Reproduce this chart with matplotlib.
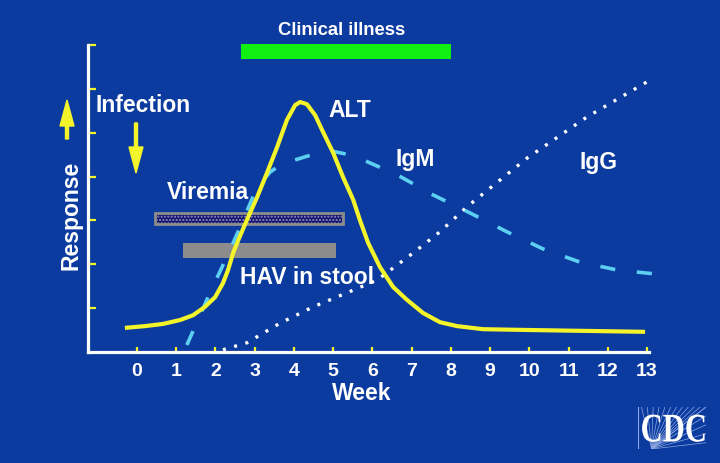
import numpy as np
import matplotlib
matplotlib.use("Agg")
import matplotlib.pyplot as plt
from matplotlib.patches import Rectangle, FancyArrow, PathPatch
from matplotlib.transforms import IdentityTransform
from matplotlib.textpath import TextPath
from matplotlib.font_manager import FontProperties
from matplotlib.path import Path

# --- data (weeks after exposure vs. relative response) ---
weeks = list(range(0, 14))

alt_week = [-0.31, 0.20, 0.66, 1.10, 1.43, 1.73, 1.99, 2.19, 2.32, 2.45, 2.58, 2.80,
            3.06, 3.31, 3.57, 3.82, 4.03, 4.16, 4.33, 4.54, 4.74, 5.00, 5.25, 5.51,
            5.68, 5.89, 6.19, 6.53, 6.88, 7.29, 7.72, 8.16, 8.82, 10.09, 12.95]
alt_resp = [0.55, 0.59, 0.64, 0.73, 0.84, 1.03, 1.25, 1.57, 1.87, 2.26, 2.55, 3.01,
            3.53, 4.08, 4.67, 5.29, 5.63, 5.70, 5.65, 5.40, 5.02, 4.54, 3.99, 3.47,
            3.01, 2.49, 1.94, 1.48, 1.19, 0.89, 0.68, 0.59, 0.52, 0.50, 0.46]

igm_week = [1.27, 1.86, 2.29, 2.63, 3.06, 3.39, 3.72, 4.03, 4.61, 4.97, 5.56, 5.89,
            6.63, 7.55, 8.49, 9.43, 10.35, 11.29, 12.24, 13.2]
igm_resp = [0.16, 1.35, 2.17, 2.85, 3.76, 4.10, 4.31, 4.38, 4.54, 4.58, 4.47, 4.33,
            4.04, 3.58, 3.17, 2.74, 2.35, 2.05, 1.87, 1.78]

igg_week = [2.19, 2.80, 3.65, 4.49, 5.35, 6.12, 7.04, 7.72, 8.41, 9.94, 11.47, 13.0]
igg_resp = [0.05, 0.21, 0.66, 1.03, 1.35, 1.64, 2.26, 2.74, 3.31, 4.42, 5.36, 6.16]

# periods: clinical illness, viremia, virus in stool
period_names = ["Clinical illness", "Viremia", "HAV in stool"]
period_start = [2.65, 0.46, 1.17]
period_end = [8.0, 5.25, 5.07]
period_low = [6.68, 2.92, 2.14]
period_high = [7.02, 3.17, 2.49]

BG = "#0b3b9e"
YELLOW = "#f4f42a"
CYAN = "#5ccff2"
WHITE = "white"

plt.rcParams["font.family"] = ["Liberation Sans", "DejaVu Sans"]
plt.rcParams["font.weight"] = "bold"

W, H = 720, 463
fig = plt.figure(figsize=(W / 100, H / 100), dpi=100, facecolor=BG)
ax = fig.add_axes([88 / W, 1 - 352 / H, (649 - 88) / W, (352 - 45) / H])
ax.set_facecolor(BG)
ax.set_xlim(-1.25, 13.05)
ax.set_ylim(0, 7)

for s in ["top", "right"]:
    ax.spines[s].set_visible(False)
for s in ["left", "bottom"]:
    ax.spines[s].set_color(WHITE)
    ax.spines[s].set_linewidth(2.3)
    ax.spines[s].set_capstyle("projecting")

ax.set_xticks(weeks)
ax.set_xticklabels([str(w) for w in weeks],
                   family=["Liberation Sans Narrow", "Liberation Sans"])
ax.set_yticks(range(1, 8))
ax.set_yticklabels([])
ax.tick_params(axis="x", direction="in", length=3.5, width=1.6, color=YELLOW,
               labelcolor=WHITE, labelsize=14, pad=8)
ax.tick_params(axis="y", direction="in", length=6, width=1.6, color=YELLOW)

# period bars
ax.add_patch(Rectangle((period_start[0], period_low[0]), period_end[0] - period_start[0],
                       period_high[0] - period_low[0], facecolor="#11ee11",
                       edgecolor="none", clip_on=False, zorder=2))
ax.add_patch(Rectangle((period_start[1], period_low[1]), period_end[1] - period_start[1],
                       period_high[1] - period_low[1], facecolor="#16166e",
                       edgecolor="#8f8fc0", hatch=".....", linewidth=0, zorder=2))
ax.add_patch(Rectangle((period_start[1], period_low[1]), period_end[1] - period_start[1],
                       period_high[1] - period_low[1], facecolor="none",
                       edgecolor="#8c8c8c", linewidth=2, zorder=2))
ax.add_patch(Rectangle((period_start[2], period_low[2]), period_end[2] - period_start[2],
                       period_high[2] - period_low[2], facecolor="#8c8c8c",
                       edgecolor="none", zorder=2))

# curves
ax.plot(igg_week, igg_resp, color=WHITE, lw=2.4, linestyle=(0, (0.9, 2.6)),
        dash_capstyle="butt", clip_on=False, zorder=3)
ax.plot(igm_week, igm_resp, color=CYAN, lw=2.6, linestyle=(0, (4.2, 6.0)),
        dash_capstyle="butt", clip_on=False, zorder=4)
ax.plot(alt_week, alt_resp, color=YELLOW, lw=3.0, solid_joinstyle="round",
        solid_capstyle="butt", clip_on=False, zorder=5)

# labels in data space
lab = dict(color=WHITE, fontsize=16.5, fontweight="bold", va="baseline", zorder=6)
ax.text(-1.07, (352 - 112) / 43.86, "Infection", ha="left", **lab)
ax.text(0.76, (352 - 199) / 43.86, period_names[1], ha="left", **lab)
ax.text(2.63, (352 - 284) / 43.86, period_names[2], ha="left", **lab)
ax.text(4.87, (352 - 117) / 43.86, "ALT", ha="left", **lab)
ax.text(6.58, (352 - 166) / 43.86, "IgM", ha="left", **lab)
ax.text(11.29, (352 - 169) / 43.86, "IgG", ha="left", **lab)
ax.text((period_start[0] + period_end[0]) / 2 - 0.12, 7.23, period_names[0],
        ha="center", color=WHITE, fontsize=13.3, fontweight="bold", va="baseline",
        clip_on=False)

# axis titles
fig.text(362 / W, 1 - 400 / H, "Week", ha="center", va="baseline", color=WHITE,
         fontsize=16.5, fontweight="bold")
fig.text(78 / W, 1 - 215 / H, "Response", ha="center", va="baseline", rotation=90,
         rotation_mode="anchor", color=WHITE, fontsize=16.5, fontweight="bold")

# yellow arrows
fig.add_artist(FancyArrow(136, H - 123, 0, -50, width=3, head_width=14, head_length=26,
                          length_includes_head=True, color=YELLOW,
                          transform=IdentityTransform()))
fig.add_artist(FancyArrow(67, H - 139, 0, 39, width=3, head_width=14, head_length=26,
                          length_includes_head=True, color=YELLOW,
                          transform=IdentityTransform()))

# CDC logo in its own small axes: fine rays behind squeezed serif letters
lg = fig.add_axes([638 / W, 1 - 449 / H, 68 / W, 42 / H])
lg.set_axis_off()
lg.set_xlim(0, 1)
lg.set_ylim(0, 1)
for ex in np.linspace(0.05, 1.0, 12):
    lg.plot([0.2, ex], [0, 1], color="#8fa8e2", lw=0.5, zorder=1)
for ey in np.linspace(0.15, 1.0, 5):
    lg.plot([0.2, 1.0], [0, ey], color="#8fa8e2", lw=0.5, zorder=1)
lg.plot([0, 0], [0, 1], color="#8fa8e2", lw=0.8, zorder=1)

tp = TextPath((0, 0), "CDC", size=1, prop=FontProperties(family="Liberation Serif",
                                                        weight="bold"))
ext = tp.get_extents()
verts = tp.vertices.copy()
verts[:, 0] = 0.06 + (verts[:, 0] - ext.x0) / ext.width * 0.92
verts[:, 1] = 0.17 + (verts[:, 1] - ext.y0) / ext.height * 0.65
lg.add_patch(PathPatch(Path(verts, tp.codes), facecolor=WHITE, edgecolor="none",
                       zorder=5))

fig.savefig("out.png", dpi=100, facecolor=BG)
